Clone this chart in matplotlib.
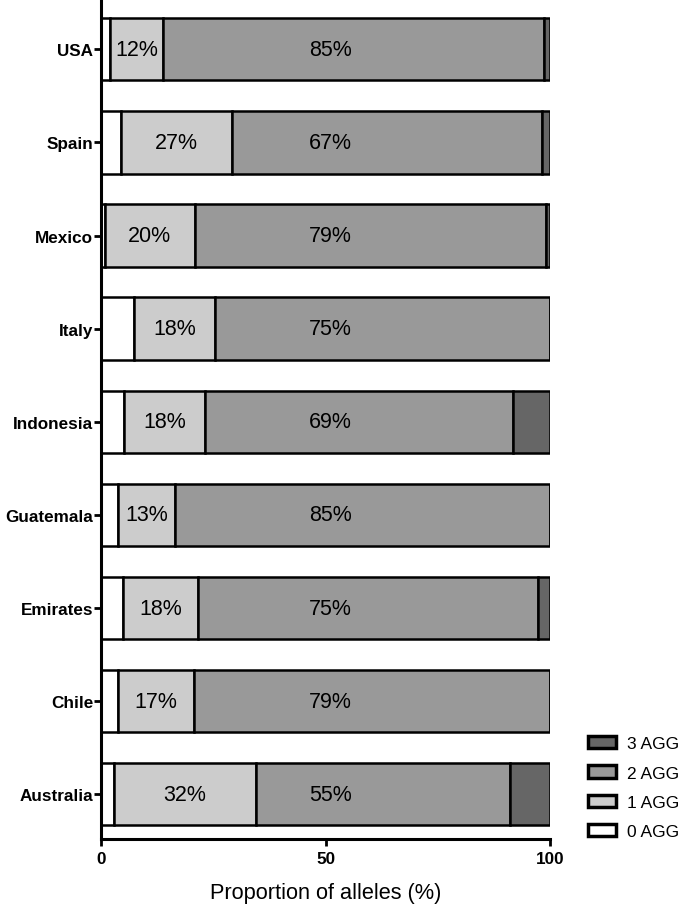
import numpy as np
import matplotlib.pyplot as plt
from matplotlib.patches import Patch

plt.rcParams['font.family'] = ['Liberation Sans', 'DejaVu Sans']

# countries top to bottom
countries = ['USA', 'Spain', 'Mexico', 'Italy', 'Indonesia', 'Guatemala', 'Emirates', 'Chile', 'Australia']
agg0 = [1.8, 4.3, 0.7, 7.3, 5.0, 3.7, 4.9, 3.7, 2.8]
agg1 = [12.0, 24.9, 20.1, 18.1, 18.1, 12.7, 16.7, 17.0, 31.6]
agg2 = [84.8, 69.0, 78.3, 74.6, 68.7, 83.6, 75.7, 79.3, 56.8]
agg3 = [1.4, 1.8, 0.9, 0.0, 8.2, 0.0, 2.7, 0.0, 8.8]
lab1 = ['12%', '27%', '20%', '18%', '18%', '13%', '18%', '17%', '32%']
lab2 = ['85%', '67%', '79%', '75%', '69%', '85%', '75%', '79%', '55%']

series = [agg0, agg1, agg2, agg3]
names = ['0 AGG', '1 AGG', '2 AGG', '3 AGG']
colors = ['#ffffff', '#cccccc', '#999999', '#666666']

fig = plt.figure(figsize=(6.9, 9.12), dpi=100)
ax = fig.add_axes([0.147, 0.079, 0.650, 0.921])

y = np.arange(len(countries))[::-1]
left = np.zeros(len(countries))
for vals, c in zip(series, colors):
    vals = np.array(vals)
    ax.barh(y, vals, left=left, height=0.67, color=c, edgecolor='black', linewidth=1.8)
    left += vals

a0 = np.array(agg0)
a1 = np.array(agg1)
for i in range(len(countries)):
    ax.text(a0[i] + a1[i] / 2, y[i], lab1[i], ha='center', va='center', fontsize=15.5)
    ax.text(51, y[i], lab2[i], ha='center', va='center', fontsize=15.5)

ax.set_xlim(0, 100)
ax.set_ylim(-0.48, 8.54)
ax.set_xticks([0, 50, 100])
ax.set_yticks(y)
ax.set_yticklabels(countries, fontweight='bold', fontsize=12.3)
for t in ax.get_xticklabels():
    t.set_fontweight('bold')
    t.set_fontsize(12.3)
ax.tick_params(width=2, length=5)
ax.tick_params(axis='y', pad=1)
ax.spines['top'].set_visible(False)
ax.spines['right'].set_visible(False)
ax.spines['left'].set_linewidth(2.2)
ax.spines['bottom'].set_linewidth(2.2)
ax.set_xlabel('Proportion of alleles (%)', fontsize=15.7, labelpad=12)

handles = [Patch(facecolor=c, edgecolor='black', linewidth=2.5, label=n)
           for c, n in zip(colors, names)][::-1]
fig.legend(handles=handles, loc='upper left', bbox_to_anchor=(0.83, 0.209),
           frameon=False, fontsize=12.5, handlelength=1.6, handleheight=0.7,
           labelspacing=0.82, handletextpad=0.6)

fig.savefig('out.png', dpi=100)
